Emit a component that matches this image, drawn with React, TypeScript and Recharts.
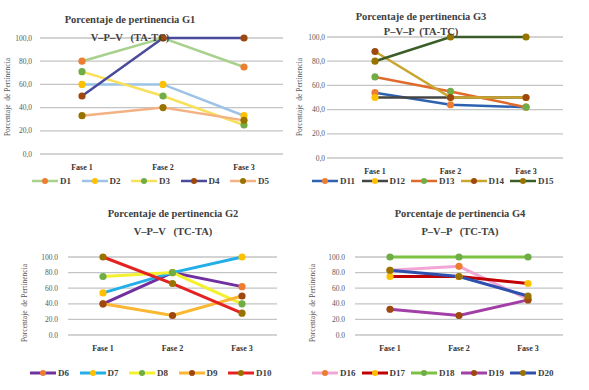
import React from 'react';
import { LineChart, Line, XAxis, YAxis, CartesianGrid } from 'recharts';

const phases = ['Fase 1', 'Fase 2', 'Fase 3'];
const yTicks = [0, 20, 40, 60, 80, 100];

// G1
const d1 = [80, 100, 75];
const d2 = [60, 60, 33];
const d3 = [71, 50, 25];
const d4 = [50, 100, 100];
const d5 = [33, 40, 29];
// G3
const d11 = [54, 44, 42];
const d12 = [50, 50, 50];
const d13 = [67, 55, 42];
const d14 = [88, 50, 50];
const d15 = [80, 100, 100];
// G2
const d6 = [40, 80, 62];
const d7 = [54, 80, 100];
const d8 = [75, 80, 40];
const d9 = [40, 25, 50];
const d10 = [100, 66, 28];
// G4
const d16 = [83, 88, 46];
const d17 = [75, 75, 66];
const d18 = [100, 100, 100];
const d19 = [33, 25, 45];
const d20 = [83, 75, 50];

const markerColors = ['#ED7D31', '#FFC000', '#70AD47', '#9E480E', '#997300'];

const FONT = '"Liberation Serif", "DejaVu Serif", serif';

type Series = { name: string; values: number[]; line: string };

type ChartCfg = {
  title: string;
  subtitle: string;
  series: Series[];
  left: number;
  top: number;
  width: number;
  height: number;
  margin: { top: number; right: number; bottom: number; left: number };
  pad: { left: number; right: number };
  decimal: string;
  yTickSize: number;
  titleX: number;
  titleY: number;
  subY: number;
  labelX: number;
  labelY: number;
  legendX: number;
  legendY: number;
  lineWidth: number;
};

const charts: ChartCfg[] = [
  {
    title: 'Porcentaje de pertinencia G1',
    subtitle: 'V\u2013P\u2013V   (TA-TC)',
    series: [
      { name: 'D1', values: d1, line: '#A9D18E' },
      { name: 'D2', values: d2, line: '#9DC3E6' },
      { name: 'D3', values: d3, line: '#F8E05A' },
      { name: 'D4', values: d4, line: '#4A4A9C' },
      { name: 'D5', values: d5, line: '#F4B183' },
    ],
    left: 0, top: 0, width: 295, height: 195,
    margin: { top: 38, right: 12, bottom: 21, left: 10 },
    pad: { left: 42, right: 39 },
    decimal: ',',
    yTickSize: 6,
    titleX: 130, titleY: 20, subY: 38,
    labelX: 8, labelY: 97,
    legendX: 32, legendY: 181,
    lineWidth: 2.5,
  },
  {
    title: 'Porcentaje de pertinencia G3',
    subtitle: 'P\u2013V\u2013P  (TA-TC)',
    series: [
      { name: 'D11', values: d11, line: '#2E62B0' },
      { name: 'D12', values: d12, line: '#454545' },
      { name: 'D13', values: d13, line: '#E06A2C' },
      { name: 'D14', values: d14, line: '#C9A52E' },
      { name: 'D15', values: d15, line: '#3B5E28' },
    ],
    left: 295, top: 0, width: 294, height: 195,
    margin: { top: 37, right: 26, bottom: 17, left: 2 },
    pad: { left: 48, right: 37 },
    decimal: ',',
    yTickSize: 0,
    titleX: 421, titleY: 17, subY: 32,
    labelX: 300, labelY: 97,
    legendX: 312, legendY: 181,
    lineWidth: 2.5,
  },
  {
    title: 'Porcentaje de pertinencia G2',
    subtitle: 'V\u2013P\u2013V   (TC-TA)',
    series: [
      { name: 'D6', values: d6, line: '#7030A0' },
      { name: 'D7', values: d7, line: '#22AEE6' },
      { name: 'D8', values: d8, line: '#F5F02E' },
      { name: 'D9', values: d9, line: '#FBB731' },
      { name: 'D10', values: d10, line: '#E42222' },
    ],
    left: 0, top: 195, width: 295, height: 195,
    margin: { top: 62, right: 18, bottom: 35, left: 38 },
    pad: { left: 35, right: 35 },
    decimal: '.',
    yTickSize: 8,
    titleX: 173, titleY: 214, subY: 232,
    labelX: 25, labelY: 303,
    legendX: 30, legendY: 373,
    lineWidth: 3,
  },
  {
    title: 'Porcentaje de pertinencia G4',
    subtitle: 'P\u2013V\u2013P   (TC-TA)',
    series: [
      { name: 'D16', values: d16, line: '#F2A6D6' },
      { name: 'D17', values: d17, line: '#C00000' },
      { name: 'D18', values: d18, line: '#7DC142' },
      { name: 'D19', values: d19, line: '#A23FA6' },
      { name: 'D20', values: d20, line: '#2F4FAE' },
    ],
    left: 295, top: 195, width: 294, height: 195,
    margin: { top: 62, right: 26, bottom: 35, left: 30 },
    pad: { left: 35, right: 35 },
    decimal: '.',
    yTickSize: 8,
    titleX: 460, titleY: 214, subY: 232,
    labelX: 313, labelY: 303,
    legendX: 312, legendY: 373,
    lineWidth: 3,
  },
];

function Panel({ cfg }: { cfg: ChartCfg }) {
  const data = phases.map((p, i) => {
    const row: Record<string, any> = { phase: p };
    cfg.series.forEach((s) => {
      row[s.name] = s.values[i];
    });
    return row;
  });
  const fmt = (v: number) => v.toFixed(1).replace('.', cfg.decimal);
  return (
    <>
      <div style={{ position: 'absolute', left: cfg.left, top: cfg.top }}>
        <LineChart width={cfg.width} height={cfg.height} data={data} margin={cfg.margin}>
          <CartesianGrid vertical={false} stroke="#C4C4C4" strokeWidth={1.3} />
          <XAxis
            dataKey="phase"
            axisLine={false}
            tickLine={false}
            height={20}
            interval={0}
            padding={cfg.pad}
            tickMargin={4}
            tick={{ fontSize: 8, fill: '#333', fontFamily: FONT, fontWeight: 'bold' }}
          />
          <YAxis
            domain={[0, 100]}
            ticks={yTicks}
            interval={0}
            axisLine={false}
            tickLine={false}
            width={30}
            tickSize={cfg.yTickSize}
            tickMargin={2}
            tickFormatter={fmt}
            tick={{ fontSize: 7.5, fill: '#595959', fontFamily: FONT }}
          />
          {cfg.series.map((s, i) => (
            <Line
              key={s.name}
              type="linear"
              dataKey={s.name}
              stroke={s.line}
              strokeWidth={cfg.lineWidth}
              dot={{ r: 3.6, fill: markerColors[i], stroke: markerColors[i], strokeWidth: 0 }}
              activeDot={false}
              isAnimationActive={false}
            />
          ))}
        </LineChart>
      </div>
      <div
        style={{
          position: 'absolute',
          left: cfg.titleX - 100,
          width: 200,
          top: cfg.titleY - 7,
          textAlign: 'center',
          fontFamily: FONT,
          fontWeight: 'bold',
          fontSize: 10.5,
          lineHeight: '14px',
          color: '#404040',
          whiteSpace: 'pre',
        }}
      >
        {cfg.title}
      </div>
      <div
        style={{
          position: 'absolute',
          left: cfg.titleX - 100,
          width: 200,
          top: cfg.subY - 7,
          textAlign: 'center',
          fontFamily: FONT,
          fontWeight: 'bold',
          fontSize: 10.5,
          lineHeight: '14px',
          color: '#404040',
          whiteSpace: 'pre',
        }}
      >
        {cfg.subtitle}
      </div>
      <div
        style={{
          position: 'absolute',
          left: cfg.labelX - 60,
          top: cfg.labelY - 5,
          width: 120,
          height: 10,
          lineHeight: '10px',
          textAlign: 'center',
          transform: 'rotate(-90deg)',
          fontFamily: FONT,
          fontSize: 7.5,
          color: '#595959',
          whiteSpace: 'pre',
        }}
      >
        {'Porcentaje  de Pertinencia'}
      </div>
      <div
        style={{
          position: 'absolute',
          left: cfg.legendX,
          top: cfg.legendY - 6,
          height: 12,
          display: 'flex',
          alignItems: 'center',
          fontFamily: FONT,
          fontSize: 9,
          fontWeight: 'bold',
          color: '#404040',
        }}
      >
        {cfg.series.map((s, i) => (
          <div key={s.name} style={{ width: 49.5, display: 'flex', alignItems: 'center' }}>
            <svg width={26} height={10} style={{ display: 'block' }}>
              <line x1={0} y1={5} x2={26} y2={5} stroke={s.line} strokeWidth={cfg.lineWidth} />
              <circle cx={13} cy={5} r={3} fill={markerColors[i]} />
            </svg>
            <span style={{ marginLeft: 2, lineHeight: '12px' }}>{s.name}</span>
          </div>
        ))}
      </div>
    </>
  );
}

export default function App() {
  return (
    <div
      style={{
        position: 'absolute',
        left: 0,
        top: 0,
        width: 589,
        height: 390,
        background: '#fff',
        overflow: 'hidden',
      }}
    >
      {charts.map((c) => (
        <Panel key={c.title} cfg={c} />
      ))}
    </div>
  );
}
